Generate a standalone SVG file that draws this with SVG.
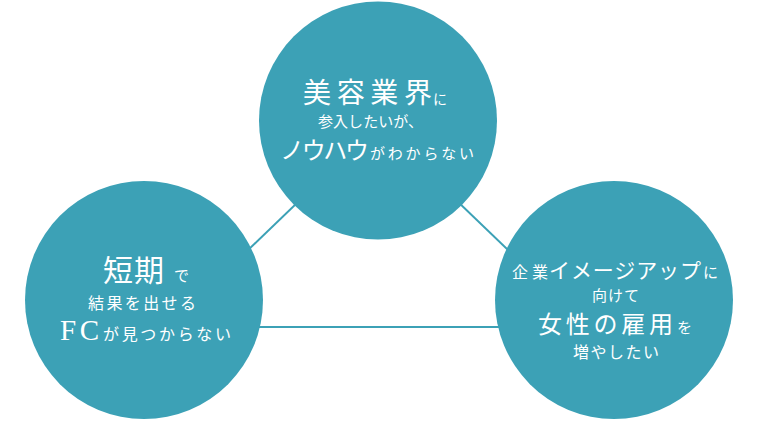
<svg xmlns="http://www.w3.org/2000/svg" width="760" height="430" viewBox="0 0 760 430">
<style>
.c{fill:#3ca1b6}
.l{stroke:#3ca1b6;stroke-width:2;fill:none}
text{fill:#ffffff;font-family:"Noto Sans CJK JP","Noto Sans",sans-serif}
.s{font-family:"Liberation Serif","Noto Sans CJK JP",serif}
</style>
<rect width="760" height="430" fill="#ffffff"/>
<g id="connectors">
<line class="l" x1="378" y1="125" x2="168" y2="327"/>
<line class="l" x1="378" y1="125" x2="588" y2="327"/>
<line class="l" x1="168" y1="327" x2="588" y2="327"/>
</g>
<g id="node-top">
<circle class="c" cx="378" cy="120.5" r="119"/>
<text x="303" y="103" font-size="28" textLength="129" lengthAdjust="spacing">美容業界</text>
<text x="433" y="104" font-size="14" textLength="13" lengthAdjust="spacing">に</text>
<text x="318" y="127" font-size="15" textLength="105" lengthAdjust="spacing">参入したいが、</text>
<text x="280" y="159" font-size="24" textLength="89" lengthAdjust="spacing">ノウハウ</text>
<text x="370" y="159" font-size="15" textLength="104" lengthAdjust="spacing">がわからない</text>
</g>
<g id="node-left">
<circle class="c" cx="144" cy="300" r="119"/>
<text x="103" y="281" font-size="30" textLength="61" lengthAdjust="spacing">短期</text>
<text x="174" y="281" font-size="15" textLength="12" lengthAdjust="spacing">で</text>
<text x="88" y="309" font-size="16" textLength="108" lengthAdjust="spacing">結果を出せる</text>
<text class="s" x="60" y="340" font-size="29" textLength="39" lengthAdjust="spacing">FC</text>
<text x="103" y="340" font-size="16" textLength="128" lengthAdjust="spacing">が見つからない</text>
</g>
<g id="node-right">
<circle class="c" cx="614" cy="300" r="119"/>
<text x="512" y="278" font-size="16" textLength="36" lengthAdjust="spacing">企業</text>
<text x="549" y="278" font-size="21" textLength="152" lengthAdjust="spacing">イメージアップ</text>
<text x="703" y="278" font-size="15" textLength="13" lengthAdjust="spacing">に</text>
<text x="592" y="301" font-size="15" textLength="47" lengthAdjust="spacing">向けて</text>
<text x="538" y="333" font-size="24" textLength="135" lengthAdjust="spacing">女性の雇用</text>
<text x="677" y="333" font-size="15" textLength="12" lengthAdjust="spacing">を</text>
<text x="573" y="358" font-size="16" textLength="86" lengthAdjust="spacing">増やしたい</text>
</g>
</svg>
